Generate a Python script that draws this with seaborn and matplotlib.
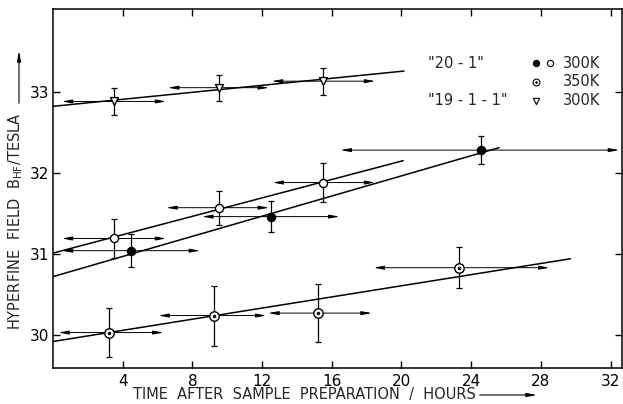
import matplotlib
matplotlib.use('Agg')
import matplotlib.pyplot as plt
import seaborn as sns
import pandas as pd

# ---------------- data ----------------
tri_t = [3.5, 9.5, 15.5]
tri_b = [32.88, 33.05, 33.13]
tri_yerr = [0.17, 0.16, 0.165]
tri_tlo = [0.5, 6.6, 12.55]
tri_thi = [6.5, 12.4, 18.5]

open_t = [3.5, 9.5, 15.5]
open_b = [31.19, 31.57, 31.88]
open_yerr = [0.24, 0.21, 0.235]
open_tlo = [0.5, 6.5, 12.6]
open_thi = [6.5, 12.4, 18.5]

fill_t = [4.5, 12.5, 24.55]
fill_b = [31.04, 31.46, 32.28]
fill_yerr = [0.2, 0.19, 0.17]
fill_tlo = [0.5, 8.55, 16.5]
fill_thi = [8.45, 16.45, 32.5]

hot_t = [3.2, 9.25, 15.2, 23.3]
hot_b = [30.03, 30.24, 30.27, 30.83]
hot_yerr = [0.3, 0.37, 0.36, 0.25]
hot_tlo = [0.3, 6.05, 12.35, 18.4]
hot_thi = [6.35, 12.25, 18.3, 28.5]

fit_t0 = [0.0, 0.0, 0.0, 0.0]
fit_t1 = [20.15, 20.1, 25.6, 29.7]
fit_b0 = [32.82, 31.01, 30.72, 29.92]
fit_b1 = [33.255, 32.15, 32.31, 30.94]

x_ticks = [4, 8, 12, 16, 20, 24, 28, 32]
y_ticks = [30, 31, 32, 33]

# ---------------- figure ----------------
sns.set_theme(style='ticks')
plt.rcParams['font.family'] = ['DejaVu Sans']

fig = plt.figure(figsize=(6.23, 4.04), dpi=100)
ax = fig.add_axes([0.0851, 0.0891, 0.9133, 0.8886])

# fit lines
for t0, t1, b0, b1 in zip(fit_t0, fit_t1, fit_b0, fit_b1):
    sns.lineplot(x=[t0, t1], y=[b0, b1], ax=ax, color='black', lw=1.1, zorder=2)

ARROW = '-|>,head_length=0.6,head_width=0.11'
arrowprops = dict(arrowstyle=ARROW, lw=0.7, color='black', shrinkA=0, shrinkB=0,
                  mutation_scale=10)

def draw_series(t, b, yerr, tlo, thi):
    ax.errorbar(t, b, yerr=yerr, fmt='none', ecolor='black', elinewidth=0.9,
                capsize=2.2, capthick=0.9, zorder=3)
    for ti, bi, lo, hi in zip(t, b, tlo, thi):
        ax.annotate('', xy=(lo, bi), xytext=(ti, bi), arrowprops=arrowprops, zorder=3)
        ax.annotate('', xy=(hi, bi), xytext=(ti, bi), arrowprops=arrowprops, zorder=3)

draw_series(tri_t, tri_b, tri_yerr, tri_tlo, tri_thi)
draw_series(open_t, open_b, open_yerr, open_tlo, open_thi)
draw_series(fill_t, fill_b, fill_yerr, fill_tlo, fill_thi)
draw_series(hot_t, hot_b, hot_yerr, hot_tlo, hot_thi)

# markers
sns.scatterplot(x=tri_t, y=tri_b, ax=ax, marker='v', s=32, facecolor='white',
                edgecolor='black', linewidth=1.0, zorder=5)
sns.scatterplot(x=open_t, y=open_b, ax=ax, marker='o', s=34, facecolor='white',
                edgecolor='black', linewidth=1.0, zorder=5)
sns.scatterplot(x=fill_t, y=fill_b, ax=ax, marker='o', s=34, facecolor='black',
                edgecolor='black', linewidth=1.0, zorder=5)
sns.scatterplot(x=hot_t, y=hot_b, ax=ax, marker='o', s=46, facecolor='white',
                edgecolor='black', linewidth=1.0, zorder=5)
sns.scatterplot(x=hot_t, y=hot_b, ax=ax, marker='o', s=4, facecolor='black',
                edgecolor='black', linewidth=0.5, zorder=6)

# legend (as text)
fs = 10.5
ax.text(21.5, 33.35, '"20 - 1"', fontsize=fs, va='center', ha='left')
ax.text(21.5, 32.89, '"19 - 1 - 1"', fontsize=fs, va='center', ha='left')
ax.text(29.25, 33.35, '300K', fontsize=fs, va='center', ha='left')
ax.text(29.25, 33.12, '350K', fontsize=fs, va='center', ha='left')
ax.text(29.25, 32.89, '300K', fontsize=fs, va='center', ha='left')
ax.scatter([27.7], [33.35], marker='o', s=20, facecolor='black', edgecolor='black', lw=0.8, zorder=6)
ax.scatter([28.5], [33.35], marker='o', s=20, facecolor='white', edgecolor='black', lw=0.8, zorder=6)
ax.scatter([27.7], [33.12], marker='o', s=24, facecolor='white', edgecolor='black', lw=0.8, zorder=6)
ax.scatter([27.7], [33.12], marker='o', s=2, facecolor='black', edgecolor='black', lw=0.4, zorder=7)
ax.scatter([27.7], [32.89], marker='v', s=20, facecolor='white', edgecolor='black', lw=0.8, zorder=6)

# axes
ax.set_xlim(0, 32.66)
ax.set_ylim(29.593, 34.02)
ax.set_xticks(x_ticks)
ax.set_xticklabels([str(v) for v in x_ticks])
ax.set_yticks(y_ticks)
ax.set_yticklabels([str(v) for v in y_ticks])
ax.tick_params(direction='in', length=5, width=1.0, top=True, right=True,
               labelsize=11, colors='black', pad=4)
ax.tick_params(axis='y', pad=3)
for sp in ax.spines.values():
    sp.set_linewidth(1.1)
    sp.set_color('black')
ax.set_xlabel('')
ax.set_ylabel('')

# axis labels with arrows
fig.text(304 / 623, 1 - 395 / 404, 'TIME  AFTER  SAMPLE  PREPARATION  /  HOURS',
         ha='center', va='center', fontsize=10.5)
fig.patches.append(matplotlib.patches.FancyArrowPatch(
    (477 / 623, 1 - 395 / 404), (540 / 623, 1 - 395 / 404), transform=fig.transFigure,
    arrowstyle=ARROW, mutation_scale=10, lw=0.8, color='black'))
fig.text(16 / 623, 1 - 221 / 404, r'HYPERFINE  FIELD  B$_{\rm HF}$/TESLA',
         ha='center', va='center', rotation=90, fontsize=10.5)
fig.patches.append(matplotlib.patches.FancyArrowPatch(
    (19 / 623, 1 - 106 / 404), (19 / 623, 1 - 48 / 404), transform=fig.transFigure,
    arrowstyle=ARROW, mutation_scale=10, lw=0.8, color='black'))

fig.savefig('out.png', dpi=100)
